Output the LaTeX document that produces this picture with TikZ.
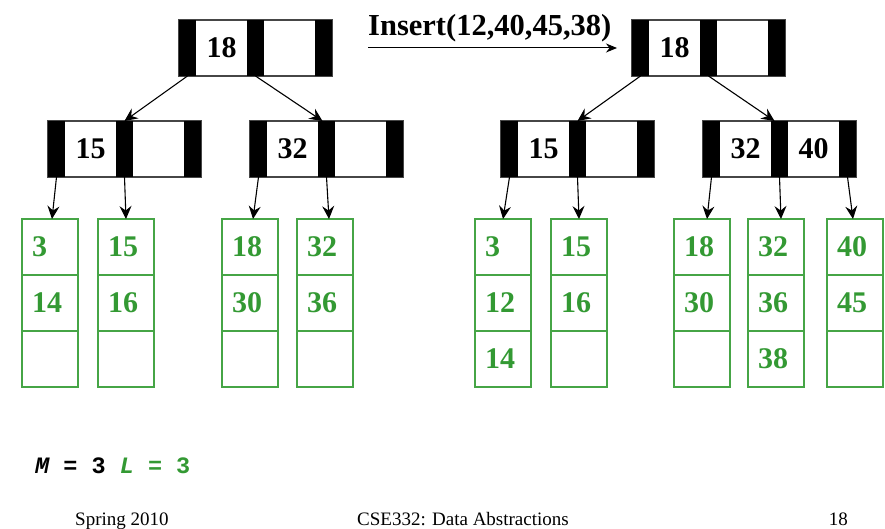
\documentclass[tikz,border=0pt]{standalone}
\usepackage{fontspec}
\setmainfont{Liberation Serif}
\setmonofont{Liberation Mono}
\usetikzlibrary{arrows.meta}

\definecolor{leafgreen}{RGB}{70,165,70}
\definecolor{keygreen}{RGB}{51,153,51}
\definecolor{boxgray}{RGB}{70,70,70}

\tikzset{
  ibox/.style={draw=boxgray, line width=1.5pt, fill=white, minimum width=153pt,
    minimum height=56pt, inner sep=0pt, outer sep=0pt},
  ibar/.style={fill=black, minimum width=17pt, minimum height=56pt, inner sep=0pt, outer sep=0pt},
  ikey/.style={inner sep=0pt, font=\fontsize{30}{36}\selectfont\bfseries},
  lbox/.style={draw=leafgreen, line width=1.3pt, minimum width=56pt, minimum height=168pt,
    inner sep=0pt, outer sep=0pt},
  lline/.style={draw=leafgreen, line width=1.3pt},
  lkey/.style={inner sep=0pt, anchor=west, text=keygreen, font=\fontsize{30}{36}\selectfont\bfseries},
  ptr/.style={line width=1.1pt, -{Stealth[length=13pt,width=12pt,inset=4.5pt]}},
  titletext/.style={inner sep=0pt, anchor=base west, font=\fontsize{30.5}{36}\selectfont\bfseries},
  foot/.style={inner sep=0pt, anchor=base, font=\fontsize{19}{23}\selectfont},
  params/.style={inner sep=0pt, anchor=base west, font=\fontsize{23.5}{28}\selectfont\ttfamily\bfseries},
}

% internal node: name, left x, top y, first key, second key
\newcommand\inode[5]{%
  \node[ibox, anchor=north west] (#1) at (#2,#3) {};
  \node[ibar, anchor=north west] (#1-p0) at (#1.north west) {};
  \node[ibar, anchor=north west] (#1-p1) at ([xshift=68pt]#1.north west) {};
  \node[ibar, anchor=north east] (#1-p2) at (#1.north east) {};
  \node[ikey] (#1-k1) at ([xshift=42.5pt]#1.west) {#4};
  \node[ikey] (#1-k2) at ([xshift=110.5pt]#1.west) {#5};
}

% leaf: name, left x, three entries
\newcommand\leafcol[5]{%
  \node[lbox, anchor=north west] (#1) at (#2,219) {};
  \draw[lline] ([yshift=-56pt]#1.north west) -- ([yshift=-56pt]#1.north east);
  \draw[lline] ([yshift=-112pt]#1.north west) -- ([yshift=-112pt]#1.north east);
  \node[lkey] (#1-e1) at ([xshift=10pt,yshift=-28pt]#1.north west) {#3};
  \node[lkey] (#1-e2) at ([xshift=10pt,yshift=-84pt]#1.north west) {#4};
  \node[lkey] (#1-e3) at ([xshift=10pt,yshift=-140pt]#1.north west) {#5};
}

\begin{document}
\begin{tikzpicture}[x=1pt, y=-1pt]
  \useasboundingbox (0,0) rectangle (885,529);

  % ---- tree before the insertions ----
  \inode{L18}{179}{20}{18}{}
  \inode{L15}{48}{121}{15}{}
  \inode{L32}{250}{121}{32}{}
  \leafcol{A1}{22}{3}{14}{}
  \leafcol{A2}{98}{15}{16}{}
  \leafcol{A3}{222}{18}{30}{}
  \leafcol{A4}{297}{32}{36}{}

  \draw[ptr] (L18-p0.south) -- (L15-p1.north);
  \draw[ptr] (L18-p1.south) -- ([xshift=-4pt]L32-p1.north);
  \draw[ptr] (L15-p0.south) -- ([xshift=2pt]A1.north);
  \draw[ptr] (L15-p1.south) -- (A2.north);
  \draw[ptr] (L32-p0.south) -- ([xshift=3pt]A3.north);
  \draw[ptr] (L32-p1.south) -- ([xshift=4pt]A4.north);

  % ---- operation label ----
  \node[titletext] (ins) at (368,36) {Insert(12,40,45,38)};
  \coordinate (insA) at (368,48);
  \coordinate (insB) at (617,48);
  \draw[line width=1pt, -{Stealth[length=11pt,width=9pt,inset=3.5pt]}] (insA) -- (insB);

  % ---- tree after the insertions ----
  \inode{R18}{632}{20}{18}{}
  \inode{R15}{501}{121}{15}{}
  \inode{R32}{703}{121}{32}{40}
  \leafcol{B1}{475}{3}{12}{14}
  \leafcol{B2}{551}{15}{16}{}
  \leafcol{B3}{674}{18}{30}{}
  \leafcol{B4}{748}{32}{36}{38}
  \leafcol{B5}{827}{40}{45}{}

  \draw[ptr] (R18-p0.south) -- (R15-p1.north);
  \draw[ptr] (R18-p1.south) -- ([xshift=-5pt]R32-p1.north);
  \draw[ptr] (R15-p0.south) -- (B1.north);
  \draw[ptr] (R15-p1.south) -- (B2.north);
  \draw[ptr] (R32-p0.south) -- ([xshift=5pt]B3.north);
  \draw[ptr] (R32-p1.south) -- ([xshift=5pt]B4.north);
  \draw[ptr] (R32-p2.south) -- ([xshift=-2pt]B5.north);

  % ---- parameters ----
  \node[params] (par) at (35,473) {{\itshape M} = 3 \textcolor{keygreen}{{\itshape L} = 3}};

  % ---- footer ----
  \node[foot, anchor=base west] (f1) at (75,525) {Spring 2010};
  \node[foot] (f2) at (463,525) {CSE332: Data Abstractions};
  \node[foot, anchor=base east] (f3) at (848,525) {18};
\end{tikzpicture}
\end{document}
